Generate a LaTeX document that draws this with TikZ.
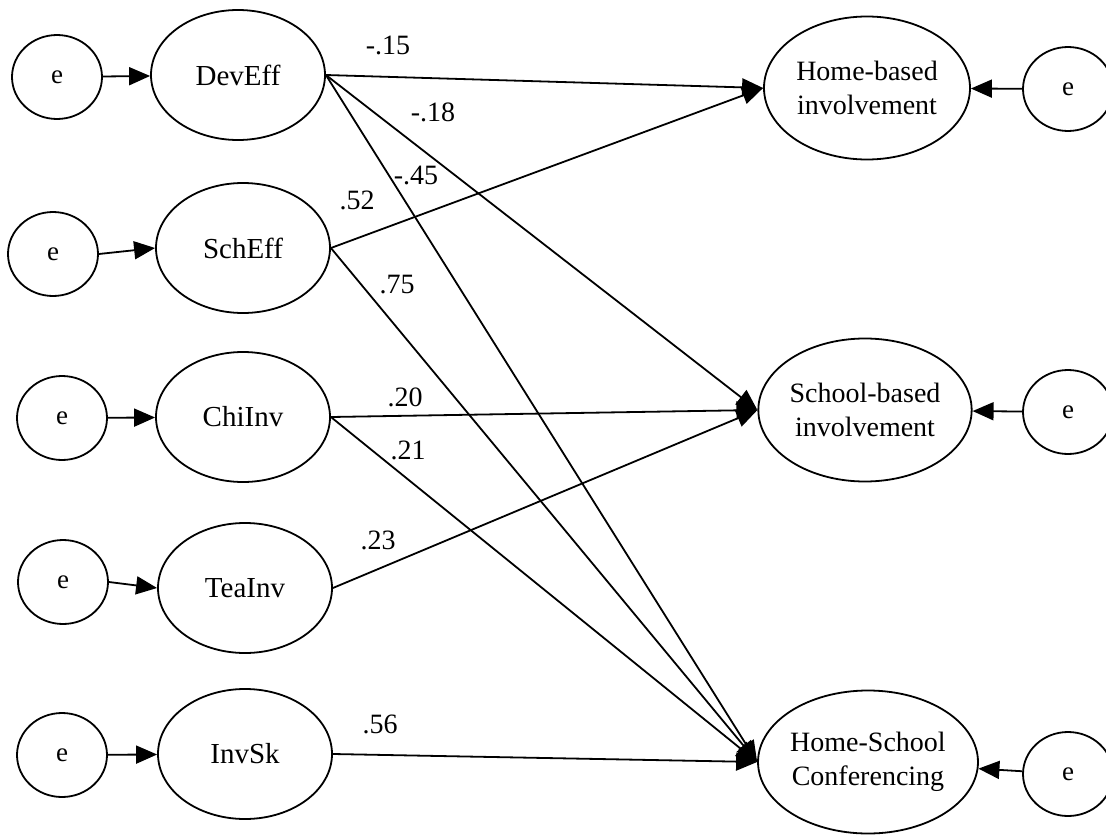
\documentclass[tikz,border=0pt]{standalone}
\usepackage{fontspec}
\setmainfont{Liberation Serif}
\usetikzlibrary{shapes.geometric,arrows.meta}
\begin{document}
\begin{tikzpicture}[x=1pt,y=-1pt,
  every path/.style={line width=1.8pt},
  errnode/.style={draw, ellipse, minimum width=90pt, minimum height=84pt, inner sep=0pt,
    font=\fontsize{27}{32}\selectfont},
  latent/.style={draw, ellipse, minimum width=174pt, minimum height=130pt, inner sep=0pt,
    font=\fontsize{29}{34}\selectfont},
  outcome/.style={draw, ellipse, minimum width=206pt, minimum height=143pt, inner sep=0pt,
    align=center, font=\fontsize{28}{34}\selectfont},
  path/.style={-{Triangle[length=21pt,width=18pt]}},
  coef/.style={font=\fontsize{28}{32}\selectfont, inner sep=0pt}]
\useasboundingbox (0,0) rectangle (1106,835);

% predictors and their errors
\node[latent] (dev) at (238,75) {DevEff};
\node[latent] (sch) at (243,248) {SchEff};
\node[latent] (chi) at (243,417) {ChiInv};
\node[latent] (tea) at (245,588) {TeaInv};
\node[latent] (inv) at (245,754) {InvSk};

\node[errnode] (e1) at (57,77) {e};
\node[errnode] (e2) at (53,254) {e};
\node[errnode] (e3) at (62,418) {e};
\node[errnode] (e4) at (63,582) {e};
\node[errnode] (e5) at (62,755) {e};

% outcomes and their errors
\node[outcome] (home) at (867,88) {Home-based\\involvement};
\node[outcome] (school) at (865,410) {School-based\\involvement};
\node[outcome] (conf) at (868,762) {Home-School\\Conferencing};

\node[errnode] (r1) at (1068,89) {e};
\node[errnode] (r2) at (1068,412) {e};
\node[errnode] (r3) at (1068,774) {e};

% error paths
\draw[path] (e1) -- (dev);
\draw[path] (e2.east) -- (sch.west);
\draw[path] (e3) -- (chi);
\draw[path] (e4.east) -- (tea.west);
\draw[path] (e5) -- (inv);
\draw[path] (r1) -- (home);
\draw[path] (r2) -- (school);
\draw[path] (r3) -- (conf);

% structural paths
\draw[path] (dev.east) -- (home.west);
\draw[path] (sch.east) -- (home.west);
\draw[path] (dev.east) -- (school.west);
\draw[path] (dev.east) -- (conf.west);
\draw[path] (sch.east) -- (conf.west);
\draw[path] (chi.east) -- (school.west);
\draw[path] (chi.east) -- (conf.west);
\draw[path] (tea.east) -- (school.west);
\draw[path] (inv.east) -- (conf.west);

% coefficients
\node[coef] (c1) at (388,45) {-.15};
\node[coef] (c2) at (433,112) {-.18};
\node[coef] (c3) at (416,175) {-.45};
\node[coef] (c4) at (357,200) {.52};
\node[coef] (c5) at (397,285) {.75};
\node[coef] (c6) at (405,397) {.20};
\node[coef] (c7) at (408,450) {.21};
\node[coef] (c8) at (378,540) {.23};
\node[coef] (c9) at (380,724) {.56};
\end{tikzpicture}
\end{document}
